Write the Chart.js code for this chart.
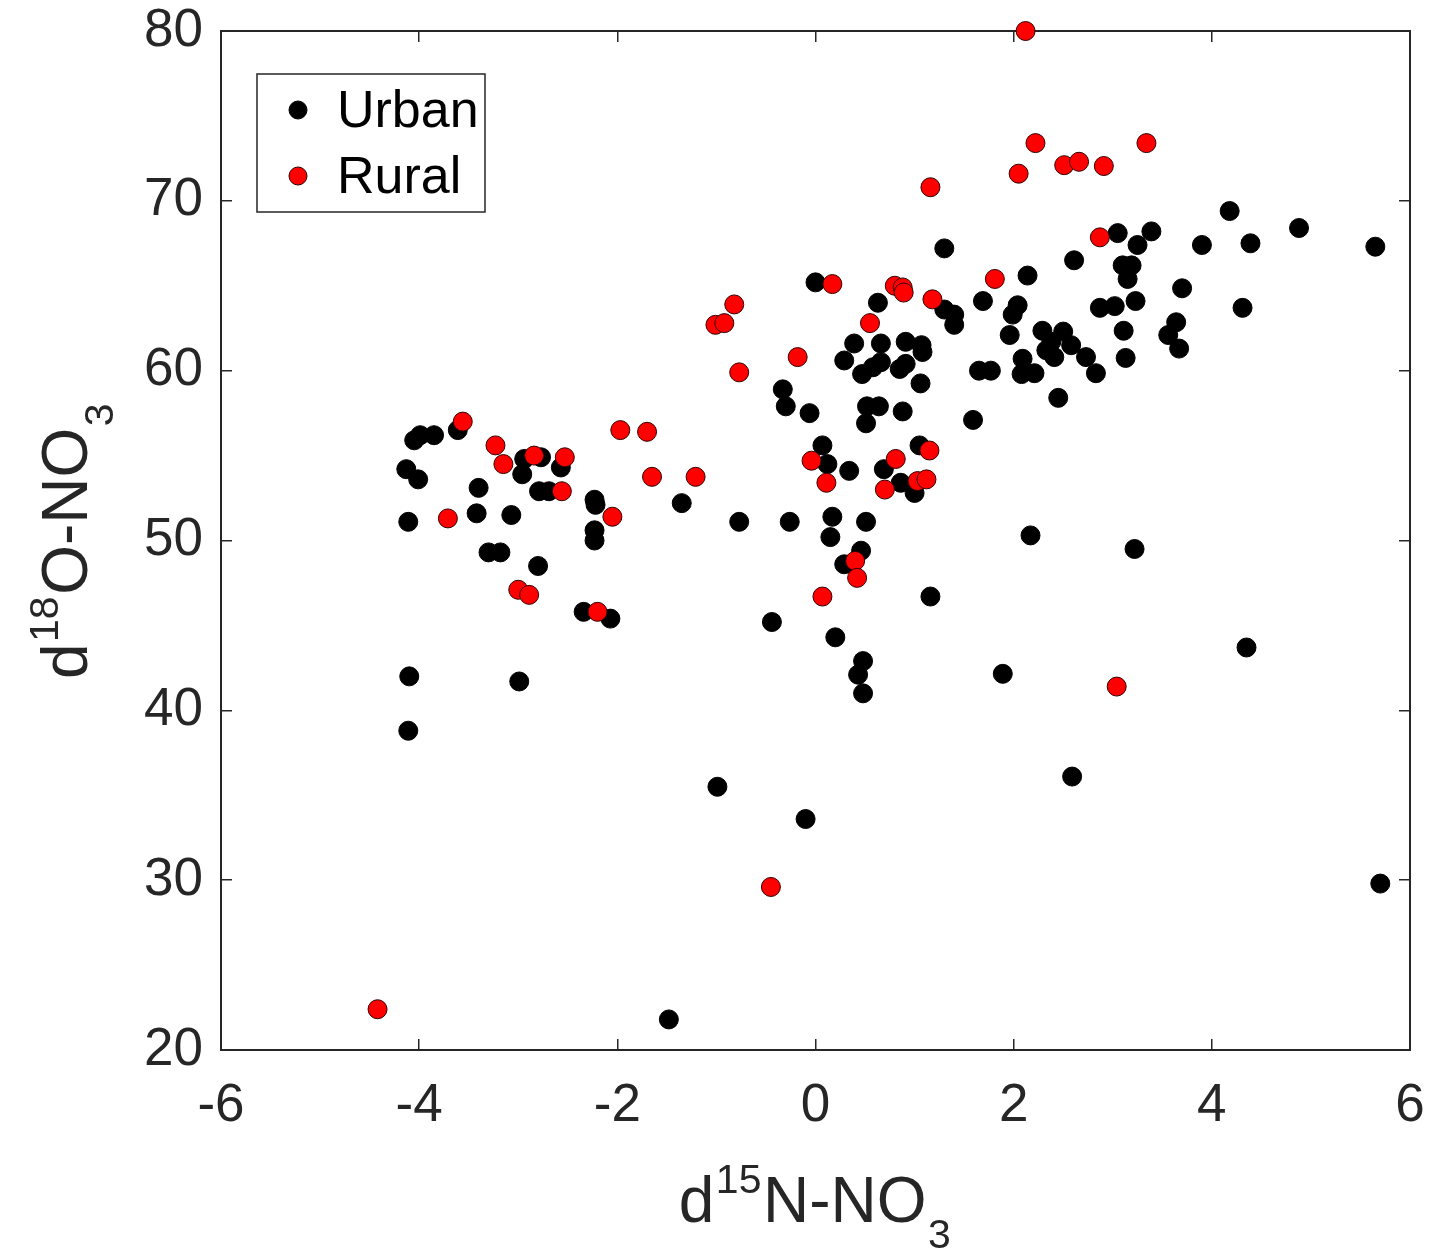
<!DOCTYPE html>
<html>
<head>
<meta charset="utf-8">
<script src="https://cdn.jsdelivr.net/npm/chart.js@4.4.1/dist/chart.umd.min.js"></script>
<style>
  html, body { margin: 0; padding: 0; background: #fff; }
  canvas { display: block; }
</style>
</head>
<body>
<canvas id="grafico" width="1431" height="1252"></canvas>
<script>
// valores (d15N, d18O)
const urbanoN = [
  -3.61,-4.05,-3.99,-3.85,-4.13,-4.01,-3.40,-3.42,-4.11,-3.07,-3.30,-3.18,-2.80,-2.94,-2.96,-2.77,-2.79,
  -2.69,-2.57,-2.23,-2.22,-2.23,-2.23,-2.34,-2.07,-4.10,-2.99,-4.11,-1.35,-0.77,-0.26,-0.99,-0.10,-1.48,
  -0.33,-0.30,-0.06,0.00,0.07,0.12,0.34,0.17,0.15,0.51,0.46,0.29,-0.44,0.20,0.48,0.43,0.48,1.16,1.05,
  0.69,0.86,1.00,0.63,0.39,0.66,0.91,1.07,1.08,0.29,0.66,0.58,0.47,0.91,0.85,1.06,0.52,0.64,0.51,0.88,
  1.59,1.65,1.77,1.30,1.30,1.40,1.40,1.69,
  2.14,2.61,3.05,3.39,3.25,3.90,4.39,4.18,4.88,5.65,3.10,3.19,3.15,3.70,4.31,2.04,1.99,1.96,2.87,3.02,
  3.23,3.64,3.56,3.67,3.11,3.13,2.29,2.50,2.38,2.33,2.41,2.58,2.73,2.83,2.09,2.08,2.21,2.45,2.17,3.22,
  4.35,1.89,2.59,5.70
];
const urbanoO = [
  56.5,55.9,56.2,56.2,54.2,53.6,53.1,51.6,51.1,51.5,49.3,49.3,48.5,54.8,53.9,54.9,52.9,
  52.9,54.3,52.4,52.1,50.6,50.0,45.8,45.4,42.0,41.7,38.8,52.2,51.1,51.1,35.5,33.6,21.8,
  58.9,57.9,57.5,65.2,55.6,54.5,54.1,51.4,50.2,51.1,49.4,48.6,45.2,44.3,42.9,42.1,41.0,46.7,55.6,
  54.2,53.4,52.8,64.0,61.6,61.6,61.7,61.5,61.1,60.6,60.5,60.2,59.8,60.4,60.1,59.25,57.9,57.9,56.9,57.6,
  57.1,60.0,60.0,67.2,63.6,63.3,62.7,64.1,
  65.6,66.5,68.1,68.2,67.4,67.4,67.5,69.4,68.4,67.3,66.2,66.2,65.4,64.85,63.7,63.85,63.3,62.1,63.7,63.8,
  64.1,62.85,62.1,61.3,62.35,60.75,62.35,62.3,61.7,61.2,60.8,61.5,60.8,59.85,60.7,59.8,59.85,58.4,50.3,49.5,
  43.7,42.15,36.1,29.8
];
const ruralN = [
  -3.56,-3.71,-3.23,-3.15,-2.84,-3.00,-2.89,-2.56,-2.53,-2.05,-1.97,-1.70,-1.65,-1.21,-2.20,-4.42,-0.45,
  -0.77,-0.18,-0.82,-1.01,-0.92,0.17,0.55,0.80,0.88,0.89,1.18,1.16,1.81,-0.04,0.11,0.40,0.42,0.07,0.81,
  1.15,1.03,1.12,0.70,3.04,2.12,2.22,2.05,2.51,2.66,2.91,3.34,2.87
];
const ruralO = [
  57.0,51.3,55.6,54.5,55.0,47.1,46.8,52.9,54.9,51.4,56.5,56.4,53.75,53.75,45.8,22.4,29.6,
  59.9,60.8,63.9,62.7,62.8,65.1,62.8,65.0,64.9,64.6,64.2,70.8,65.4,54.7,53.4,48.8,47.8,46.7,54.8,
  55.3,53.5,53.6,53.0,41.4,80.0,73.4,71.6,72.1,72.3,72.05,73.4,67.85
];
const ticksX = [-6, -4, -2, 0, 2, 4, 6];
const ticksY = [20, 30, 40, 50, 60, 70, 80];
const tituloX = [{t: 'd'}, {t: '15', sup: true}, {t: 'N-NO'}, {t: '3', sub: true}];
const tituloY = [{t: 'd'}, {t: '18', sup: true}, {t: 'O-NO'}, {t: '3', sub: true}];

const FONTE = "'Liberation Sans', Arial, Helvetica, sans-serif";
const COR_EIXO = '#262626';

function pares(xs, ys) {
  const out = [];
  for (var i = 0; i < Math.min(xs.length, ys.length); i++) out.push({x: xs[i], y: ys[i]});
  return out;
}

// texto com sobrescrito / subscrito
function textoRico(ctx, partes, cx, cy, girar) {
  const grande = 64, pequeno = 41;
  ctx.save();
  ctx.translate(cx, cy);
  if (girar) ctx.rotate(-Math.PI / 2);
  ctx.fillStyle = COR_EIXO;
  ctx.textBaseline = 'alphabetic';
  ctx.textAlign = 'left';
  var total = 0;
  partes.forEach(p => {
    ctx.font = ((p.sup || p.sub) ? pequeno : grande) + 'px ' + FONTE;
    p.w = ctx.measureText(p.t).width + ((p.sup || p.sub) ? 3 : 0);
    total += p.w;
  });
  var x = -total / 2;
  partes.forEach(p => {
    ctx.font = ((p.sup || p.sub) ? pequeno : grande) + 'px ' + FONTE;
    var dy = p.sup ? -29 : (p.sub ? 26 : 0);
    ctx.fillText(p.t, x + ((p.sup || p.sub) ? 1.5 : 0), dy);
    x += p.w;
  });
  ctx.restore();
}

const extras = {
  id: 'extras',
  afterDraw(chart) {
    const ctx = chart.ctx;
    const a = chart.chartArea;
    textoRico(ctx, tituloX, (a.left + a.right) / 2, a.bottom + 172, false);
    textoRico(ctx, tituloY, a.left - 134, (a.top + a.bottom) / 2, true);

    // legenda com caixa, dentro da área do gráfico
    const bx = a.left + 36, by = a.top + 43, bw = 228, bh = 138;
    ctx.save();
    ctx.fillStyle = '#fff';
    ctx.fillRect(bx, by, bw, bh);
    ctx.strokeStyle = COR_EIXO;
    ctx.lineWidth = 1.5;
    ctx.strokeRect(bx, by, bw, bh);
    const linhas = [by + 36, by + 102];
    chart.data.datasets.forEach((ds, i) => {
      const yy = linhas[i];
      ctx.beginPath();
      ctx.arc(bx + 41, yy, 9, 0, Math.PI * 2);
      ctx.fillStyle = ds.pointBackgroundColor;
      ctx.fill();
      ctx.lineWidth = 1;
      ctx.strokeStyle = ds.pointBorderColor;
      ctx.stroke();
      ctx.fillStyle = '#000';
      ctx.font = '52px ' + FONTE;
      ctx.textBaseline = 'middle';
      ctx.textAlign = 'left';
      ctx.fillText(ds.label, bx + 80, yy + 3);
    });
    ctx.restore();
  }
};

function eixo(pos, lista, mostrar, tamanho) {
  const horizontal = (pos === 'bottom' || pos === 'top');
  return {
    type: 'linear',
    position: pos,
    min: lista[0],
    max: lista[lista.length - 1],
    ticks: {
      display: mostrar,
      stepSize: lista[1] - lista[0],
      color: COR_EIXO,
      padding: horizontal ? 41 : 29,
      font: {family: FONTE, size: 53, lineHeight: 1.0}
    },
    grid: {
      display: true,
      drawOnChartArea: false,
      drawTicks: true,
      tickLength: -11,
      color: COR_EIXO,
      lineWidth: 1.5
    },
    border: {display: true, color: COR_EIXO, width: 2},
    title: {display: false},
    afterFit: function(s) {
      if (horizontal) s.height = tamanho; else s.width = tamanho;
      // a margem fica por conta do layout.padding
      s.paddingLeft = 0; s.paddingRight = 0; s.paddingTop = 0; s.paddingBottom = 0;
    }
  };
}

var ctx = document.getElementById('grafico').getContext('2d');
chart = new Chart(ctx, {
  type: 'scatter',
  data: {
    datasets: [
      {
        label: 'Urban',
        data: pares(urbanoN, urbanoO),
        pointRadius: 9.5,
        pointBackgroundColor: '#000000',
        pointBorderColor: '#000000',
        pointBorderWidth: 1,
        clip: false,
        order: 1
      },
      {
        label: 'Rural',
        data: pares(ruralN, ruralO),
        pointRadius: 9.5,
        pointBackgroundColor: '#ff0000',
        pointBorderColor: '#300000',
        pointBorderWidth: 1,
        clip: false,
        order: 0
      }
    ]
  },
  options: {
    responsive: false,
    animation: false,
    layout: {padding: {left: 0, top: 31, right: 21, bottom: 0}},
    plugins: {
      legend: {display: false},
      tooltip: {enabled: false}
    },
    scales: {
      x: eixo('bottom', ticksX, true, 202),
      y: eixo('left', ticksY, true, 221),
      x2: eixo('top', ticksX, false, 0),
      y2: eixo('right', ticksY, false, 0)
    }
  },
  plugins: [extras]
});
</script>
</body>
</html>
